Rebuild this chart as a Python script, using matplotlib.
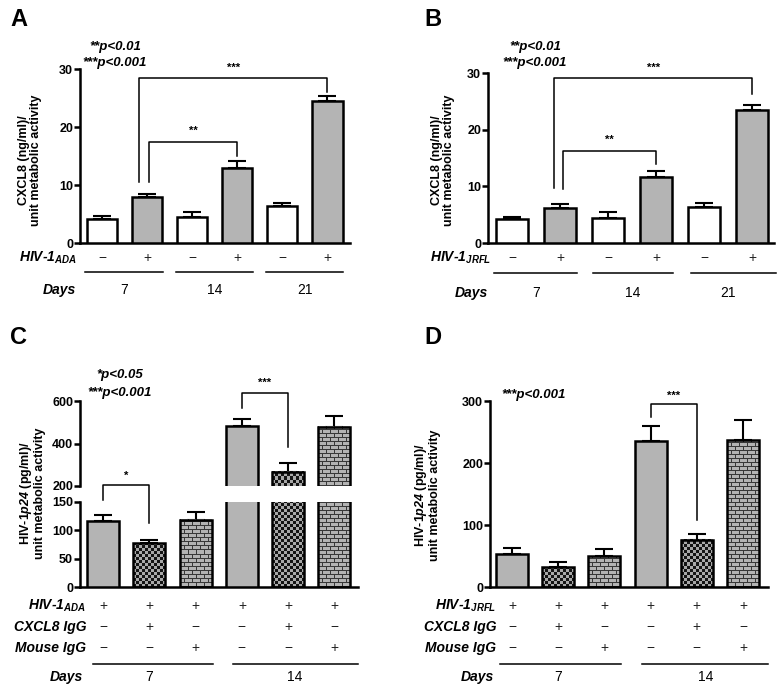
import numpy as np
import matplotlib
matplotlib.use('Agg')
import matplotlib.pyplot as plt
import matplotlib.transforms as mtransforms

plt.rcParams['font.family'] = ['Liberation Sans', 'DejaVu Sans']
plt.rcParams['mathtext.fontset'] = 'custom'
plt.rcParams['mathtext.it'] = 'Liberation Sans:italic:bold'
plt.rcParams['mathtext.rm'] = 'Liberation Sans:italic:bold'
plt.rcParams['mathtext.bf'] = 'Liberation Sans:bold'

# ---- data ----
a_vals = [4.2, 7.9, 4.5, 12.9, 6.4, 24.5]
a_err = [0.5, 0.5, 0.9, 1.2, 0.5, 0.8]
b_vals = [4.2, 6.1, 4.5, 11.7, 6.4, 23.5]
b_err = [0.4, 0.8, 0.9, 1.0, 0.6, 0.8]
c_vals = [116, 77, 119, 481, 268, 480]
c_err = [11, 6, 13, 34, 38, 48]
d_vals = [53, 32, 50, 236, 76, 237]
d_err = [10, 8, 11, 23, 9, 33]

hiv_ab = ['−', '+', '−', '+', '−', '+']
days_ab = ['7', '14', '21']
hiv_cd = ['+', '+', '+', '+', '+', '+']
cxcl8_igg = ['−', '+', '−', '−', '+', '−']
mouse_igg = ['−', '−', '+', '−', '−', '+']
days_cd = ['7', '14']

kinds_ab = ['open', 'plain', 'open', 'plain', 'open', 'plain']
kinds_cd = ['plain', 'check', 'brick', 'plain', 'check', 'brick']

W, H = 782, 690
fig = plt.figure(figsize=(W / 100, H / 100), dpi=100)


def make_axes(l, t, r, b):
    return fig.add_axes([l / W, 1 - b / H, (r - l) / W, (b - t) / H])


def fy(y):
    return 1 - y / H


def style(ax, ticks, ylim, xlim):
    for s in ['top', 'right']:
        ax.spines[s].set_visible(False)
    ax.spines['left'].set_linewidth(1.8)
    ax.spines['bottom'].set_linewidth(1.8)
    ax.set_yticks(ticks)
    ax.set_yticklabels([str(t) for t in ticks], fontweight='bold')
    ax.tick_params(axis='y', length=4, width=1.8, labelsize=9, pad=1)
    ax.tick_params(axis='x', bottom=False, labelbottom=False)
    ax.set_ylim(ylim)
    ax.set_xlim(xlim)


def draw_bars(ax, vals, errs, kinds, width):
    bars = []
    for i, (v, e, k) in enumerate(zip(vals, errs, kinds)):
        fc = {'open': 'white', 'plain': '#b4b4b4'}.get(k, 'none')
        b = ax.bar(i, v, width, color=fc, edgecolor='black', linewidth=1.8, zorder=3)[0]
        ax.errorbar(i, v, yerr=[[0], [e]], fmt='none', ecolor='black',
                    elinewidth=1.5, capsize=6.5, capthick=1.5, zorder=2)
        bars.append((b, k))
    return bars


def textures(ax, bars):
    # pattern fill for the antibody bars, only over the visible part of each bar
    ylo, yhi = ax.get_ylim()
    for b, k in bars:
        if k not in ('check', 'brick'):
            continue
        x0, x1 = b.get_x(), b.get_x() + b.get_width()
        y0 = max(b.get_y(), ylo)
        y1 = min(b.get_y() + b.get_height(), yhi)
        if y1 <= y0:
            continue
        p0 = ax.transData.transform((x0, y0))
        p1 = ax.transData.transform((x1, y1))
        w = max(int(round(p1[0] - p0[0])), 1)
        h = max(int(round(p1[1] - p0[1])), 1)
        yy, xx = np.mgrid[0:h, 0:w]
        if k == 'check':
            img = np.where((xx // 3 + yy // 3) % 2 == 0, 0.08, 0.66)
        else:
            shift = ((yy // 4) % 2) * 4
            mortar = (yy % 4 == 0) | ((xx + shift) % 8 == 0)
            img = np.where(mortar, 0.22, 0.7)
        ax.imshow(img, extent=(x0, x1, y0, y1), origin='lower', cmap='gray',
                  vmin=0, vmax=1, aspect='auto', interpolation='nearest', zorder=2.5)


def bracket(ax, x1, x2, y, y1, y2, label, ly):
    ax.plot([x1, x1, x2, x2], [y1, y, y, y2], color='black', lw=1.1, clip_on=False, zorder=4)
    ax.text((x1 + x2) / 2, ly, label, ha='center', va='center', fontsize=8,
            fontweight='bold', clip_on=False)


def under(ax, rows, label_x, lines, line_y, days, days_x, days_y, days_lx):
    tr = mtransforms.blended_transform_factory(ax.transData, fig.transFigure)
    for label, signs, y in rows:
        fig.text(label_x / W, fy(y), label, ha='right', va='center', fontsize=10,
                 fontweight='bold', fontstyle='italic')
        for i, s in enumerate(signs):
            ax.text(i, fy(y), s, transform=tr, ha='center', va='center', fontsize=10,
                    color='#222222')
    for x0, x1 in lines:
        ax.plot([x0, x1], [fy(line_y), fy(line_y)], transform=tr, color='black',
                lw=1.1, clip_on=False)
    fig.text(days_lx / W, fy(days_y), 'Days', ha='right', va='center', fontsize=10,
             fontweight='bold', fontstyle='italic')
    for x, d in zip(days_x, days):
        ax.text(x, fy(days_y), d, transform=tr, ha='center', va='center', fontsize=10)


def ylab(x, y, text):
    fig.text(x / W, fy(y), text, rotation=90, ha='center', va='center', fontsize=9,
             fontweight='bold', linespacing=1.1)


# ---- panel A ----
axA = make_axes(80, 69, 350, 243)
style(axA, [0, 10, 20, 30], (0, 30), (-0.49, 5.5))
barsA = draw_bars(axA, a_vals, a_err, kinds_ab, 0.67)
bracket(axA, 0.82, 5.0, 28.5, 10.5, 26.0, '***', 30.2)
bracket(axA, 1.04, 3.0, 17.5, 10.5, 15.0, '**', 19.4)
under(axA, [('HIV-$1_{ADA}$', hiv_ab, 258)], 77,
      [(-0.38, 1.35), (1.63, 3.35), (3.63, 5.35)], 272,
      days_ab, [0.5, 2.5, 4.5], 290, 76)
ylab(30, 160, 'CXCL8 (ng/ml)/\nunit metabolic activity')
fig.text(115 / W, fy(47), '**p<0.01', ha='center', va='center', fontsize=9.5,
         fontweight='bold', fontstyle='italic')
fig.text(115 / W, fy(63), '***p<0.001', ha='center', va='center', fontsize=9.5,
         fontweight='bold', fontstyle='italic')
fig.text(10 / W, fy(20), 'A', ha='left', va='center', fontsize=17, fontweight='bold')

# ---- panel B ----
axB = make_axes(488, 73, 774, 243)
style(axB, [0, 10, 20, 30], (0, 30), (-0.5, 5.45))
barsB = draw_bars(axB, b_vals, b_err, kinds_ab, 0.67)
bracket(axB, 0.87, 5.0, 29.1, 9.7, 26.3, '***', 30.9)
bracket(axB, 1.06, 3.0, 16.2, 9.5, 14.0, '**', 18.2)
under(axB, [('HIV-$1_{JRFL}$', hiv_ab, 258)], 491,
      [(-0.37, 1.35), (1.69, 3.35), (3.73, 5.5)], 273,
      days_ab, [0.5, 2.5, 4.5], 293, 488)
ylab(443, 160, 'CXCL8 (ng/ml)/\nunit metabolic activity')
fig.text(535 / W, fy(47), '**p<0.01', ha='center', va='center', fontsize=9.5,
         fontweight='bold', fontstyle='italic')
fig.text(535 / W, fy(63), '***p<0.001', ha='center', va='center', fontsize=9.5,
         fontweight='bold', fontstyle='italic')
fig.text(424 / W, fy(20), 'B', ha='left', va='center', fontsize=17, fontweight='bold')

# ---- panel C (broken y axis) ----
axCu = make_axes(80, 401, 358, 486)
axCl = make_axes(80, 502, 358, 587)
style(axCu, [200, 400, 600], (200, 600), (-0.5, 5.51))
style(axCl, [0, 50, 100, 150], (0, 150), (-0.5, 5.51))
axCu.spines['bottom'].set_visible(False)
barsCu = draw_bars(axCu, c_vals, c_err, kinds_cd, 0.69)
barsCl = draw_bars(axCl, c_vals, c_err, kinds_cd, 0.69)
bracket(axCl, 0.0, 1.0, 180, 153, 113, '*', 197)
bracket(axCu, 3.0, 4.0, 638, 567, 384, '***', 685)
under(axCl, [('HIV-$1_{ADA}$', hiv_cd, 606), ('CXCL8 IgG', cxcl8_igg, 627),
             ('Mouse IgG', mouse_igg, 648)], 86,
      [(-0.22, 2.37), (2.8, 5.5)], 664,
      days_cd, [1.0, 4.15], 677, 83)
ylab(32, 493, 'HIV-1$p24$ (pg/ml)/\nunit metabolic activity')
fig.text(120 / W, fy(375), '*p<0.05', ha='center', va='center', fontsize=9.5,
         fontweight='bold', fontstyle='italic')
fig.text(120 / W, fy(393), '***p<0.001', ha='center', va='center', fontsize=9.5,
         fontweight='bold', fontstyle='italic')
fig.text(10 / W, fy(337), 'C', ha='left', va='center', fontsize=17, fontweight='bold')

# ---- panel D ----
axD = make_axes(490, 401, 768, 587)
style(axD, [0, 100, 200, 300], (0, 300), (-0.476, 5.54))
barsD = draw_bars(axD, d_vals, d_err, kinds_cd, 0.69)
bracket(axD, 3.0, 4.0, 295, 274, 108, '***', 308)
under(axD, [('HIV-$1_{JRFL}$', hiv_cd, 606), ('CXCL8 IgG', cxcl8_igg, 627),
            ('Mouse IgG', mouse_igg, 648)], 496,
      [(-0.25, 2.36), (2.81, 5.54)], 664,
      days_cd, [1.0, 4.2], 677, 494)
ylab(427, 495, 'HIV-1$p24$ (pg/ml)/\nunit metabolic activity')
fig.text(534 / W, fy(395), '***p<0.001', ha='center', va='center', fontsize=9.5,
         fontweight='bold', fontstyle='italic')
fig.text(424 / W, fy(337), 'D', ha='left', va='center', fontsize=17, fontweight='bold')

# textures need the final limits, then restore them (imshow autoscales)
for ax, bars in [(axCu, barsCu), (axCl, barsCl), (axD, barsD)]:
    xl, yl = ax.get_xlim(), ax.get_ylim()
    textures(ax, bars)
    ax.set_xlim(xl)
    ax.set_ylim(yl)

fig.savefig('out.png', dpi=100)
